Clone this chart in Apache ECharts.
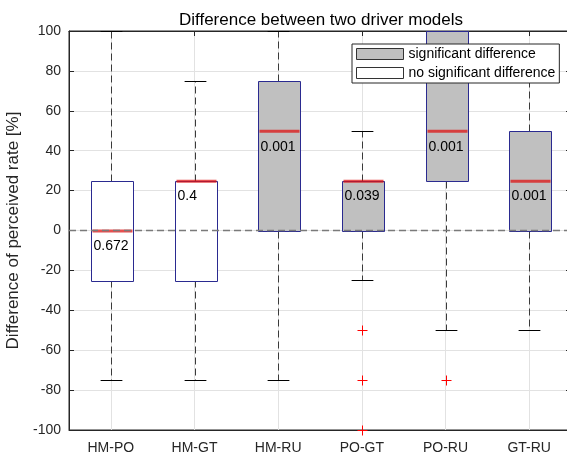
<!DOCTYPE html>
<html><head><meta charset="utf-8">
<script src="https://cdn.jsdelivr.net/npm/echarts@6/dist/echarts.min.js"></script>
<style>html,body{margin:0;padding:0;background:#fff}#c{width:567px;height:456px}</style>
</head><body><div id="c"></div>
<script>
const categories = ['HM-PO', 'HM-GT', 'HM-RU', 'PO-GT', 'PO-RU', 'GT-RU'];
const lowerWhisker = [-75, -75, -75, -25, -50, -50];
const lowerQuartile = [-25, -25, 0, 0, 25, 0];
const medians = [0, 25, 50, 25, 50, 25];
const upperQuartile = [25, 25, 75, 25, 100, 50];
const upperWhisker = [100, 75, 100, 50, 100, 75];
const significant = [false, false, true, true, true, true];
const pValues = ['0.672', '0.4', '0.001', '0.039', '0.001', '0.001'];
const outlierCategory = ['PO-GT', 'PO-GT', 'PO-GT', 'PO-RU'];
const outlierValues = [-50, -75, -100, -75];
const referenceLevel = [0];

const FONT = '"Liberation Sans", Arial, sans-serif';
const AXIS_COLOR = '#262626';

function boxData(sig) {
  const out = [];
  categories.forEach((c, i) => {
    if (significant[i] === sig) {
      out.push([i, lowerWhisker[i], lowerQuartile[i], medians[i], upperQuartile[i], upperWhisker[i]]);
    }
  });
  return out;
}
const crisp = v => Math.round(v) + 0.5;

function renderBox(params, api) {
  const i = api.value(0);
  const lo = api.coord([i, api.value(1)]);
  const q1 = api.coord([i, api.value(2)]);
  const md = api.coord([i, api.value(3)]);
  const q3 = api.coord([i, api.value(4)]);
  const hi = api.coord([i, api.value(5)]);
  const band = api.size([1, 0])[0];
  const hw = band * 0.25;
  const cw = band * 0.13;
  const x = crisp(lo[0]);
  const fill = significant[i] ? '#c0c0c0' : '#ffffff';
  const dash = { stroke: '#3a3a3a', lineWidth: 1, lineDash: [7, 4] };
  const cap = { stroke: '#000', lineWidth: 1 };
  const children = [];
  if (hi[1] < q3[1] - 0.5) children.push({ type: 'line', shape: { x1: x, y1: crisp(q3[1]), x2: x, y2: crisp(hi[1]) }, style: dash });
  if (lo[1] > q1[1] + 0.5) children.push({ type: 'line', shape: { x1: x, y1: crisp(q1[1]), x2: x, y2: crisp(lo[1]) }, style: dash });
  children.push({ type: 'line', shape: { x1: x - cw, y1: crisp(hi[1]), x2: x + cw, y2: crisp(hi[1]) }, style: cap });
  children.push({ type: 'line', shape: { x1: x - cw, y1: crisp(lo[1]), x2: x + cw, y2: crisp(lo[1]) }, style: cap });
  children.push({ type: 'rect', shape: { x: crisp(x - hw), y: crisp(q3[1]), width: Math.round(2 * hw), height: Math.round(q1[1] - q3[1]) },
    style: { fill: fill, stroke: '#2a2a90', lineWidth: 1 } });
  children.push({ type: 'line', shape: { x1: crisp(x - hw) + 1, y1: md[1] + 0.5, x2: crisp(x - hw) + Math.round(2 * hw) - 1, y2: md[1] + 0.5 },
    style: { stroke: 'rgba(222,20,20,0.75)', lineWidth: 3 } });
  children.push({ type: 'text', x: crisp(x - hw) + 2, y: md[1] + 16,
    style: { text: pValues[i], fill: '#000', font: '14px ' + FONT, align: 'left', verticalAlign: 'middle' } });
  return { type: 'group', children };
}

function renderOutlier(params, api) {
  const p = api.coord([api.value(0), api.value(1)]);
  const x = crisp(p[0]), y = crisp(p[1]);
  const s = { stroke: '#ff0000', lineWidth: 1 };
  return { type: 'group', children: [
    { type: 'line', shape: { x1: x - 5, y1: y, x2: x + 5, y2: y }, style: s },
    { type: 'line', shape: { x1: x, y1: y - 5, x2: x, y2: y + 5 }, style: s }
  ] };
}

function renderReference(params, api) {
  const cs = params.coordSys;
  const y = api.coord([0, api.value(0)])[1];
  return { type: 'line', shape: { x1: cs.x, y1: y, x2: cs.x + cs.width, y2: y },
    style: { stroke: '#7a7a7a', lineWidth: 1.5, lineDash: [7, 4] } };
}

const chart = echarts.init(document.getElementById('c'), null, { renderer: 'canvas' });
chart.setOption({
  animation: false,
  backgroundColor: '#fff',
  title: {
    text: 'Difference between two driver models', left: 316, top: 7, textAlign: 'center',
    textStyle: { fontFamily: FONT, fontSize: 17, fontWeight: 'normal', color: '#000' }
  },
  legend: {
    orient: 'vertical', left: 352, top: 44, icon: 'rect', itemWidth: 47, itemHeight: 11, itemGap: 5,
    padding: [3, 4, 3, 4], backgroundColor: '#fff', borderColor: AXIS_COLOR, borderWidth: 1,
    selectedMode: false, z: 10,
    textStyle: { fontFamily: FONT, fontSize: 14, color: '#000' },
    data: [
      { name: 'significant difference', itemStyle: { color: '#c0c0c0', borderColor: '#333', borderWidth: 1 } },
      { name: 'no significant difference', itemStyle: { color: '#fff', borderColor: '#333', borderWidth: 1 } }
    ]
  },
  grid: { left: 69, right: -4, top: 31, bottom: 26, outerBoundsMode: 'none',
    show: true, borderColor: AXIS_COLOR, borderWidth: 1, backgroundColor: 'transparent' },
  xAxis: [
    {
      type: 'category', data: categories, position: 'bottom',
      axisLine: { onZero: false, lineStyle: { color: AXIS_COLOR } },
      axisTick: { inside: true, alignWithLabel: true, length: 5, lineStyle: { color: AXIS_COLOR } },
      axisLabel: { fontFamily: FONT, fontSize: 14, color: AXIS_COLOR, margin: 11 },
      splitLine: { show: true, alignWithLabel: true, lineStyle: { color: '#e2e2e2' } }
    },
    {
      type: 'category', data: categories, position: 'top',
      axisLine: { show: true, onZero: false, lineStyle: { color: AXIS_COLOR } },
      axisTick: { show: true, inside: true, alignWithLabel: true, length: 5, lineStyle: { color: AXIS_COLOR } },
      axisLabel: { show: false }, splitLine: { show: false }
    }
  ],
  yAxis: [
    {
      type: 'value', min: -100, max: 100, interval: 20, position: 'left',
      name: 'Difference of perceived rate [%]', nameLocation: 'middle', nameGap: 40,
      nameTextStyle: { fontFamily: FONT, fontSize: 17, color: AXIS_COLOR },
      axisLine: { show: true, onZero: false, lineStyle: { color: AXIS_COLOR } },
      axisTick: { show: true, inside: true, length: 5, lineStyle: { color: AXIS_COLOR } },
      axisLabel: { fontFamily: FONT, fontSize: 14, color: AXIS_COLOR, margin: 8 },
      splitLine: { show: true, lineStyle: { color: '#e2e2e2' } }
    },
    {
      type: 'value', min: -100, max: 100, interval: 20, position: 'right',
      axisLine: { show: true, onZero: false, lineStyle: { color: AXIS_COLOR } },
      axisTick: { show: true, inside: true, length: 5, lineStyle: { color: AXIS_COLOR } },
      axisLabel: { show: false }, splitLine: { show: false }
    }
  ],
  series: [
    { name: 'significant difference', type: 'custom', renderItem: renderBox, data: boxData(true), z: 3,
      itemStyle: { color: '#c0c0c0' } },
    { name: 'no significant difference', type: 'custom', renderItem: renderBox, data: boxData(false), z: 3,
      itemStyle: { color: '#fff' } },
    { name: 'outliers', type: 'custom', renderItem: renderOutlier, z: 4,
      data: outlierValues.map((v, k) => [categories.indexOf(outlierCategory[k]), v]) },
    { name: 'zero', type: 'custom', renderItem: renderReference, z: 5, data: referenceLevel.map(v => [v]) }
  ]
});
</script></body></html>
